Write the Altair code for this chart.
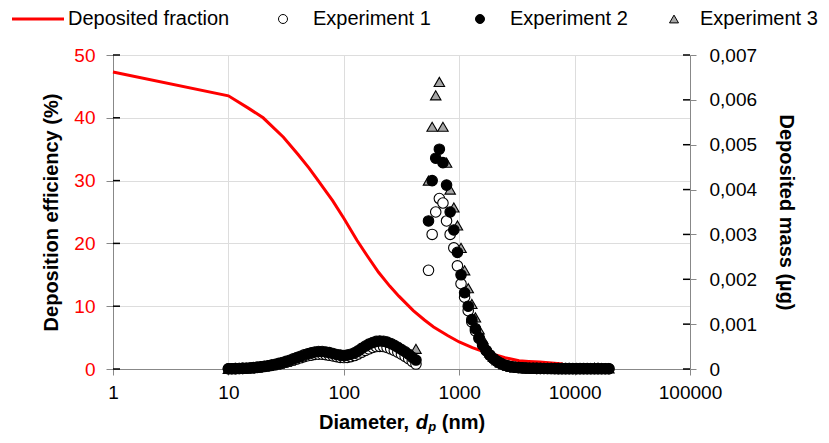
import altair as alt
import pandas as pd

FONT = "Liberation Sans"
W, H = 577, 314

# ---- Deposited fraction (left axis, %) ----
frac_d = [1, 10, 15, 20, 30, 40, 50, 60, 70, 80, 100, 130, 160, 200, 250, 300, 400,
          500, 600, 800, 1000, 1300, 1600, 2000, 2500, 3300, 4000, 5000, 6300, 7900]
frac_e = [47.3, 43.5, 41.5, 40.0, 36.9, 34.2, 32.0, 30.0, 28.3, 26.8, 24.0, 20.5, 18.0,
          15.4, 13.2, 11.6, 9.3, 7.8, 6.7, 5.3, 4.3, 3.4, 2.8, 2.3, 1.8, 1.3, 1.2, 1.1, 0.95, 0.8]

# ---- SMPS size channels (nm) ----
smps_d = [10.0, 10.7, 11.5, 12.4, 13.3, 14.3, 15.4, 16.5, 17.8, 19.1, 20.5, 22.1, 23.7,
          25.5, 27.4, 29.4, 31.6, 34.0, 36.5, 39.2, 42.2, 45.3, 48.7, 52.3, 56.2, 60.4,
          64.9, 69.8, 75.0, 80.6, 86.6, 93.1, 100, 107, 115, 124, 133, 143, 154, 165,
          178, 191, 205, 221, 237, 255, 274, 294, 316, 340, 365, 392, 422]
# deposited mass, in 1e-4 ug
exp1_smps = [0.05, 0.06, 0.08, 0.1, 0.13, 0.17, 0.22, 0.28, 0.36, 0.45, 0.55, 0.67, 0.8,
             0.95, 1.1, 1.3, 1.5, 1.75, 2.0, 2.25, 2.5, 2.75, 2.95, 3.1, 3.25, 3.3, 3.3,
             3.2, 3.05, 2.9, 2.75, 2.6, 2.55, 2.6, 2.75, 3.0, 3.35, 3.75, 4.15, 4.5, 4.8,
             5.0, 5.05, 5.0, 4.8, 4.5, 4.15, 3.75, 3.3, 2.8, 2.3, 1.7, 1.1]
exp2_smps = [0.05, 0.07, 0.09, 0.11, 0.14, 0.18, 0.23, 0.3, 0.38, 0.48, 0.6, 0.74, 0.9,
             1.05, 1.25, 1.45, 1.7, 1.95, 2.25, 2.55, 2.85, 3.15, 3.4, 3.6, 3.8, 3.9, 3.9,
             3.8, 3.65, 3.45, 3.25, 3.1, 3.0, 3.1, 3.3, 3.6, 4.05, 4.6, 5.1, 5.55, 5.9,
             6.15, 6.25, 6.2, 6.0, 5.7, 5.3, 4.85, 4.35, 3.85, 3.3, 2.6, 2.0]
exp3_smps = [0.04, 0.05, 0.07, 0.09, 0.12, 0.16, 0.21, 0.27, 0.35, 0.45, 0.56, 0.7, 0.85,
             1.0, 1.2, 1.4, 1.65, 1.9, 2.2, 2.5, 2.8, 3.05, 3.3, 3.5, 3.65, 3.7, 3.65,
             3.55, 3.4, 3.2, 3.0, 2.85, 2.8, 2.85, 3.0, 3.3, 3.7, 4.2, 4.65, 5.05, 5.4,
             5.6, 5.7, 5.65, 5.45, 5.15, 4.75, 4.3, 3.8, 3.4, 3.1, 3.0, 4.5]

# ---- APS size channels (nm) ----
aps_d = [542, 583, 626, 673, 723, 777, 835, 898, 965, 1037, 1114, 1197, 1286, 1382, 1486,
         1596, 1715, 1843, 1981, 2129, 2288, 2458, 2642, 2839, 3051, 3278, 3523, 3786,
         4068, 4371, 4698, 5048, 5425, 5829, 6264, 6732, 7234, 7774, 8354, 8977, 9647,
         10370, 11140, 11970, 12860, 13820, 14860, 15960, 17150, 18430, 19810]
exp1_aps = [22, 30, 35, 38, 37, 33, 30, 27, 23, 19, 16, 13, 10.5, 8.5, 6.8, 5.3, 4.1, 3.1,
            2.3, 1.7, 1.25, 0.9, 0.65, 0.5, 0.38, 0.3, 0.25, 0.2, 0.17, 0.15, 0.13, 0.12,
            0.11, 0.1, 0.1, 0.09, 0.09, 0.08, 0.08, 0.08, 0.07, 0.07, 0.07, 0.07, 0.06,
            0.06, 0.06, 0.06, 0.05, 0.05, 0.05]
exp2_aps = [33, 42, 47, 49, 46, 41, 35, 31, 26, 21, 17, 14, 11, 9, 7, 5.4, 4.1, 3.1, 2.3,
            1.7, 1.25, 0.9, 0.65, 0.5, 0.4, 0.32, 0.26, 0.21, 0.18, 0.16, 0.14, 0.13, 0.12,
            0.11, 0.1, 0.1, 0.09, 0.09, 0.09, 0.08, 0.08, 0.08, 0.08, 0.08, 0.08, 0.07,
            0.07, 0.07, 0.07, 0.07, 0.07]
exp3_aps = [42, 54, 61, 64, 54, 46, 40, 36, 32, 27, 22, 18, 14.5, 11.5, 8.8, 6.7, 5.0, 3.7,
            2.7, 1.95, 1.4, 1.0, 0.75, 0.55, 0.42, 0.33, 0.27, 0.22, 0.19, 0.17, 0.15,
            0.14, 0.13, 0.12, 0.12, 0.11, 0.11, 0.1, 0.1, 0.1, 0.1, 0.1, 0.1, 0.12, 0.15,
            0.2, 0.28, 0.3, 0.2, 0.15, 0.15]

line_name = "Deposited fraction"
exp_names = ["Experiment 1", "Experiment 2", "Experiment 3"]
exp_shapes = ["circle", "circle", "triangle-up"]
exp_fills = ["#FFFFFF", "#000000", "#A6A6A6"]
draw_order = {"Experiment 3": 0, "Experiment 1": 1, "Experiment 2": 2}
x_ticks = [1, 10, 100, 1000, 10000, 100000]
left_ticks = [0, 10, 20, 30, 40, 50]
right_ticks = [0, 0.001, 0.002, 0.003, 0.004, 0.005, 0.006, 0.007]
x_title_parts = ["Diameter,", "d", "p", "(nm)"]

# ---- tables ----
df_line = pd.DataFrame({"d": frac_d, "e": frac_e})
rows = []
for name, sm, ap in [("Experiment 1", exp1_smps, exp1_aps),
                     ("Experiment 2", exp2_smps, exp2_aps),
                     ("Experiment 3", exp3_smps, exp3_aps)]:
    for d, v in zip(smps_d, sm):
        rows.append({"d": d, "m": v * 1e-4, "series": name, "z": draw_order[name]})
    for d, v in zip(aps_d, ap):
        rows.append({"d": d, "m": v * 1e-4, "series": name, "z": draw_order[name]})
df_pts = pd.DataFrame(rows)

x_enc = alt.X("d:Q",
              scale=alt.Scale(type="log", domain=[1, 100000]),
              axis=alt.Axis(values=x_ticks, format="d", title=None,
                            tickSize=6, labelPadding=8, labelFlush=False,
                            labelFontSize=19))

left_axis = alt.Axis(orient="left", values=left_ticks, labelColor="#FF0000",
                     title="Deposition  efficiency (%)", tickSize=7, labelPadding=11,
                     titlePadding=12, labelFontSize=19, titleFontSize=20)
y_left = alt.Y("e:Q", scale=alt.Scale(domain=[0, 50]), axis=left_axis)

right_axis = alt.Axis(orient="right", values=right_ticks,
                      labelExpr="datum.value == 0 ? '0' : replace(format(datum.value, '.3f'), '.', ',')",
                      title="Deposited mass  (µg)", tickSize=6, labelPadding=13,
                      titlePadding=19, labelFontSize=19, titleFontSize=20)
y_right = alt.Y("m:Q", scale=alt.Scale(domain=[0, 0.007]), axis=right_axis)

line = alt.Chart(df_line).mark_line(strokeWidth=3, color="#FF0000").encode(x=x_enc, y=y_left)
left_inner = alt.Chart(pd.DataFrame({"e": left_ticks})).mark_rule(
    color="black", strokeWidth=1.5).encode(y=y_left, x=alt.value(0), x2=alt.value(7))

pts = alt.Chart(df_pts).mark_point(filled=True, opacity=1, size=110, strokeWidth=1.1,
                                   stroke="black").encode(
    x=x_enc, y=y_right,
    shape=alt.Shape("series:N", scale=alt.Scale(domain=exp_names, range=exp_shapes), legend=None),
    fill=alt.Fill("series:N", scale=alt.Scale(domain=exp_names, range=exp_fills), legend=None),
    order=alt.Order("z:Q"),
)
right_inner = alt.Chart(pd.DataFrame({"m": right_ticks})).mark_rule(
    color="black", strokeWidth=1.5).encode(y=y_right, x=alt.value(W - 7), x2=alt.value(W))

left_group = alt.layer(line, left_inner)
right_group = alt.layer(pts, right_inner)

# ---- legend row above the plot (pixel offsets relative to the plot's top-left) ----
LEG_Y = -36
LEG_FS = 20
extra = [
    alt.Chart(pd.DataFrame({"lbl": [line_name]})).mark_rule(color="#FF0000", strokeWidth=3).encode(
        x=alt.value(-101), x2=alt.value(-49), y=alt.value(LEG_Y)),
    alt.Chart(pd.DataFrame({"lbl": [line_name]})).mark_text(
        align="left", baseline="middle", font=FONT, fontSize=LEG_FS, color="black").encode(
        text="lbl:N", x=alt.value(-45), y=alt.value(LEG_Y)),
]
sym_x = [170, 367, 561]
lab_x = [200, 397, 587]
for name, shp, fll, sx, lx in zip(exp_names, exp_shapes, exp_fills, sym_x, lab_x):
    one = pd.DataFrame({"lbl": [name]})
    extra.append(alt.Chart(one).mark_point(
        shape=shp, filled=True, fill=fll, stroke="black", strokeWidth=1, size=81, opacity=1).encode(
        x=alt.value(sx), y=alt.value(LEG_Y)))
    extra.append(alt.Chart(one).mark_text(
        align="left", baseline="middle", font=FONT, fontSize=LEG_FS, color="black").encode(
        text="lbl:N", x=alt.value(lx), y=alt.value(LEG_Y)))

# ---- x-axis title: "Diameter, d_p (nm)" with italic d and subscript p ----
TB = H + 60  # baseline of the title
title_specs = [
    (x_title_parts[0], 206.0, TB, 20, "normal"),
    (x_title_parts[1], 302.7, TB, 20, "italic"),
    (x_title_parts[2], 315.2, TB + 2, 13, "italic"),
    (x_title_parts[3], 328.8, TB, 20, "normal"),
]
for txt, tx, ty, fs, sty in title_specs:
    extra.append(alt.Chart(pd.DataFrame({"t": [txt]})).mark_text(
        align="left", baseline="alphabetic", font=FONT, fontSize=fs, fontWeight="bold",
        fontStyle=sty, color="black").encode(
        text="t:N", x=alt.value(tx), y=alt.value(ty)))

chart = alt.layer(left_group, right_group, *extra).resolve_scale(y="independent").properties(
    width=W, height=H,
    padding={"left": 105, "top": 47, "right": 131, "bottom": 66},
    autosize=alt.AutoSizeParams(type="none"),
).configure_view(stroke=None).configure_axis(
    grid=False, domainColor="black", domainWidth=1.5, tickColor="black", tickWidth=1.5,
    labelFont=FONT, titleFont=FONT, labelColor="black", titleColor="black",
    titleFontWeight="bold",
).configure(background="white")

chart.save("out.html", embed_options={"renderer": "svg", "actions": False})
